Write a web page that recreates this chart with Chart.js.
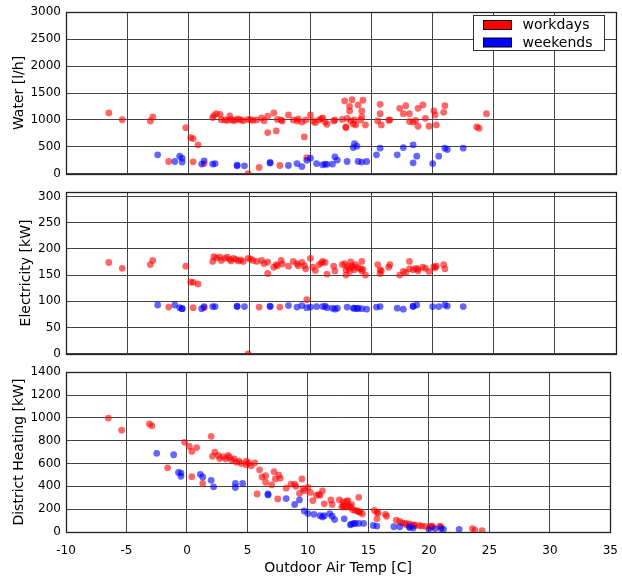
<!DOCTYPE html>
<html>
<head>
<meta charset="utf-8">
<script src="https://cdn.jsdelivr.net/npm/chart.js@4.4.1/dist/chart.umd.min.js"></script>
<style>
  html, body { margin: 0; padding: 0; background: #fff; overflow: hidden; }
  #wrap { position: relative; width: 622px; height: 576px; overflow: hidden; }
  canvas { position: absolute; left: 0; }
</style>
</head>
<body>
<div id="wrap">
  <canvas id="water" width="630" height="186" style="top:0px"></canvas>
  <canvas id="elec" width="630" height="186" style="top:180px"></canvas>
  <canvas id="heat" width="630" height="216" style="top:360px"></canvas>
</div>
<script>
// workdays: outdoor temp and the three meters
const workTemp = [
  -6.5, -5.4, -3.1, -2.9, -1.6, -0.2, 0.2, 0.4, 0.8, 0.4,
  1.3, 2.0, 2.1, 2.3, 2.6, 2.7, 3.0, 3.2, 3.4, 3.5,
  3.7, 3.9, 4.1, 4.3, 4.5, 4.9, 4.9, 5.1, 5.3, 5.6,
  5.8, 6.0, 6.2, 6.5, 6.5, 7.0, 7.2, 7.3, 7.5, 7.6,
  7.7, 8.2, 8.6, 8.9, 9.0, 9.3, 9.5, 9.6, 9.7, 10.0,
  10.2, 10.4, 10.7, 10.9, 11.0, 11.2, 11.35, 11.9, 12.0, 12.6,
  12.8, 12.9, 12.9, 13.0, 13.2, 13.2, 13.3, 13.4, 13.5, 13.6,
  13.7, 13.9, 14.1, 14.2, 14.2, 14.3, 14.5, 15.5, 15.7, 15.7,
  15.8, 16.4, 16.5, 17.3, 17.6, 17.8, 18.1, 18.1, 18.4, 18.6,
  18.8, 18.8, 19.2, 19.4, 19.7, 20.1, 20.2, 20.3, 20.9, 21.0,
  23.6, 23.8, 24.4
];
const workWater = [
  1130, 1005, 980, 1055, 228, 857, 672, 654, 537, 222,
  190, 1043, 1080, 1117, 1105, 1005, 1000, 990, 1074, 1010,
  985, 1000, 1020, 1000, 985, 5, 1010, 1005, 990, 1000,
  117, 1040, 985, 765, 1068, 1130, 796, 1010, 154, 1000,
  980, 1093, 1000, 980, 1020, 960, 685, 1000, 302, 1093,
  980, 950, 1000, 1020, 1040, 960, 920, 981, 1000, 1010,
  1352, 870, 858, 1030, 1253, 1167, 981, 1376, 926, 1000,
  907, 1278, 1000, 1167, 1055, 1365, 907, 981, 1290, 1117,
  907, 994, 1000, 1216, 1117, 1265, 1117, 970, 960, 990,
  883, 1216, 1278, 1030, 883, 1167, 1093, 907, 1142, 1265,
  870, 846, 1117
];
const workElec = [
  174, 163, 170, 178, 89, 167, 137, 136, 133, 88,
  88, 176, 185, 183, 184, 178, 182, 184, 180, 177,
  182, 180, 177, 179, 176, 0, 182, 181, 178, 176,
  89, 178, 172, 153, 175, 165, 170, 168, 89, 178,
  171, 167, 176, 172, 168, 174, 168, 162, 103, 182,
  165, 159, 170, 173, 176, 174, 152, 167, 158, 170,
  172, 150, 160, 166, 163, 157, 175, 168, 165, 160,
  170, 164, 162, 176, 158, 161, 150, 170, 160, 153,
  158, 165, 170, 150, 157, 155, 176, 162, 160, 163,
  158, 162, 165, 163, 157, 166, 164, 167, 170, 162,
  null, null, null
];
const workHeat = [
  998, 892, 947, 930, 562, 786, 749, 706, 740, 485,
  425, 838, 663, 700, 671, 643, 660, 640, 670, 655,
  630, 640, 610, 620, 600, 590, 620, 605, 580, 605,
  333, 545, 482, 493, 436, 413, 528, 465, 290, 499,
  470, 384, 420, 419, 400, 338, 465, 380, 361, 390,
  347, 275, 321, 330, 321, 361, 247, 281, 241, 281,
  218, 230, 264, 230, 270, 218, 275, 230, 218, 240,
  195, 190, 185, 304, 178, 172, 160, 189, 172, 115,
  165, 155, 138, 103, 92, 80, 75, 65, 70, 60,
  55, 62, 57, 52, 50, 46, 50, 48, 52, 45,
  29, 17, 11
];

// weekends
const weekTemp = [
  -2.5, -1.1, -0.7, -0.5, -0.5, 1.1, 1.3, 2.0, 2.2, 4.0,
  4.0, 4.6, 6.7, 6.7, 8.2, 8.9, 9.3, 9.7, 10.0, 10.5,
  11.0, 11.2, 11.35, 11.8, 12.0, 12.2, 13.0, 13.5, 13.6, 13.8,
  13.9, 14.2, 14.6, 15.4, 15.7, 17.1, 17.6, 18.4, 18.7, 18.4,
  20.0, 20.5, 21.0, 21.2, 22.5
];
const weekWater = [
  352, 228, 328, 290, 217, 180, 240, 180, 190, 148,
  160, 148, 210, 200, 154, 190, 135, 250, 290, 190,
  167, 180, 175, 180, 315, 254, 228, 487, 561, 513,
  228, 217, 228, 352, 476, 352, 487, 537, 328, 204,
  190, 328, 476, 450, 476
];
const weekElec = [
  93, 93, 88, 86, 86, 86, 90, 90, 90, 91,
  90, 90, 91, 90, 92, 89, 92, 88, 89, 90,
  90, 91, 88, 87, 85, 87, 89, 87, 87, 86,
  87, 86, 85, 89, 90, 87, 85, 90, 93, 91,
  90, 90, 93, 91, 90
];
const weekHeat = [
  689, 677, 522, 516, 488, 505, 482, 453, 396, 425,
  390, 425, 333, 325, 293, 241, 281, 184, 161, 155,
  143, 132, 143, 161, 138, 109, 115, 63, 69, 75,
  75, 75, 75, 57, 52, 46, 46, 40, 34, 45,
  23, 29, 29, 23, 23
];

// tick values
const tempTicks = [-10, -5, 0, 5, 10, 15, 20, 25, 30, 35];
const waterTicks = [0, 500, 1000, 1500, 2000, 2500, 3000];
const elecTicks = [0, 50, 100, 150, 200, 250, 300];
const heatTicks = [0, 200, 400, 600, 800, 1000, 1200, 1400];

const FONT = "DejaVu Sans";
const RED = "rgba(255, 0, 0, 0.6)";
const BLUE = "rgba(0, 0, 255, 0.6)";

function pairs(xs, ys) {
  const out = [];
  xs.forEach((x, i) => {
    if (ys[i] !== null) out.push({ x: x, y: ys[i] });
  });
  return out;
}

// frame around the plot area
const frame = {
  id: "frame",
  afterDatasetsDraw(chart) {
    const a = chart.chartArea;
    const ctx = chart.ctx;
    ctx.save();
    ctx.strokeStyle = "#222";
    ctx.lineWidth = 1.3;
    ctx.strokeRect(Math.round(a.left) + 0.5, Math.round(a.top) + 0.5,
      Math.round(a.right - a.left), Math.round(a.bottom - a.top));
    ctx.restore();
  }
};

// matplotlib-like legend box in the upper right corner
const legendBox = {
  id: "legendBox",
  afterDraw(chart) {
    const a = chart.chartArea;
    const ctx = chart.ctx;
    const w = 131, h = 35;
    const x = Math.round(a.right) - 12 - w + 0.5;
    const y = Math.round(a.top) + 3 + 0.5;
    ctx.save();
    ctx.fillStyle = "#fff";
    ctx.fillRect(x, y, w, h);
    ctx.strokeStyle = "#333";
    ctx.lineWidth = 1;
    ctx.strokeRect(x, y, w, h);
    const items = [["workdays", "#ff0000"], ["weekends", "#0000ff"]];
    items.forEach((it, i) => {
      const cy = y + 9.5 + i * 17.5;
      ctx.fillStyle = it[1];
      ctx.fillRect(x + 10, cy - 4.5, 28, 9);
      ctx.strokeStyle = "#000";
      ctx.strokeRect(x + 10, cy - 4.5, 28, 9);
      ctx.fillStyle = "#000";
      ctx.font = "14px '" + FONT + "'";
      ctx.textBaseline = "middle";
      ctx.textAlign = "left";
      ctx.fillText(it[0], x + 49, cy + 0.5);
    });
    ctx.restore();
  }
};

function makePanel(id, cfg) {
  const plugins = [frame];
  if (cfg.legend) plugins.push(legendBox);
  return new Chart(document.getElementById(id), {
    type: "scatter",
    data: {
      datasets: [
        {
          label: "workdays",
          data: pairs(workTemp, cfg.work),
          backgroundColor: RED,
          borderWidth: 0,
          pointRadius: 3.4,
          order: 2
        },
        {
          label: "weekends",
          data: pairs(weekTemp, cfg.week),
          backgroundColor: BLUE,
          borderWidth: 0,
          pointRadius: 3.4,
          order: 1
        }
      ]
    },
    options: {
      responsive: false,
      animation: false,
      events: [],
      layout: { padding: { top: cfg.padTop, bottom: cfg.padBottom, left: 0, right: 14 } },
      plugins: { legend: { display: false }, tooltip: { enabled: false } },
      scales: {
        x: {
          type: "linear",
          min: -10,
          max: 35,
          afterBuildTicks: (s) => { s.ticks = tempTicks.map((v) => ({ value: v })); },
          afterFit: (s) => { s.height = cfg.xHeight; },
          grid: { color: "#444", lineWidth: 1, drawTicks: false },
          border: { display: false },
          ticks: {
            display: cfg.showX,
            padding: 12,
            color: "#000",
            font: { family: FONT, size: 12 },
            callback: (v) => String(v)
          },
          title: {
            display: cfg.showX,
            text: "Outdoor Air Temp [C]",
            color: "#000",
            padding: { top: 0, bottom: -1 },
            font: { family: FONT, size: 14 }
          }
        },
        y: {
          type: "linear",
          min: cfg.min,
          max: cfg.max,
          afterBuildTicks: (s) => { s.ticks = cfg.ticks.map((v) => ({ value: v })); },
          afterFit: (s) => { s.width = 66; },
          grid: { color: "#444", lineWidth: 1, drawTicks: false },
          border: { display: false },
          ticks: {
            padding: 5,
            color: "#000",
            font: { family: FONT, size: 12 },
            callback: (v) => String(v)
          },
          title: {
            display: true,
            text: cfg.title,
            color: "#000",
            padding: { top: cfg.titlePad, bottom: 0 },
            font: { family: FONT, size: 14 }
          }
        }
      }
    },
    plugins: plugins
  });
}

makePanel("water", {
  work: workWater, week: weekWater,
  min: 0, max: 3000, ticks: waterTicks,
  title: "Water [l/h]", titlePad: 11,
  padTop: 11, padBottom: 1, xHeight: 0, showX: false, legend: true
});

makePanel("elec", {
  work: workElec, week: weekElec,
  min: 0, max: 308, ticks: elecTicks,
  title: "Electricity [kW]", titlePad: 18,
  padTop: 10, padBottom: 1, xHeight: 0, showX: false, legend: false
});

makePanel("heat", {
  work: workHeat, week: weekHeat,
  min: 0, max: 1400, ticks: heatTicks,
  title: "District Heating [kW]", titlePad: 11,
  padTop: 9, padBottom: 0, xHeight: 44, showX: true, legend: false
});
</script>
</body>
</html>
